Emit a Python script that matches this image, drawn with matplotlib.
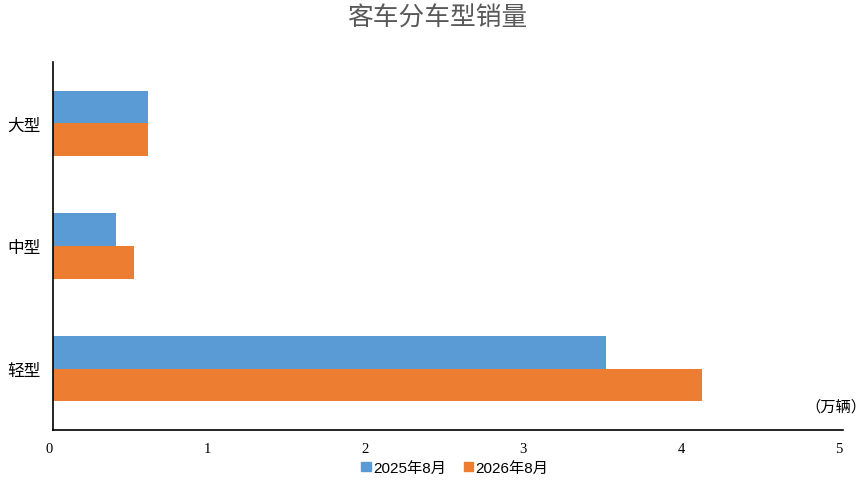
import numpy as np
import matplotlib
matplotlib.use("Agg")
import matplotlib.pyplot as plt
import matplotlib.transforms as mtransforms
from matplotlib.patches import Patch

plt.rcParams['font.family'] = ['Noto Sans CJK SC', 'DejaVu Sans']

# data (万辆)
categories = ['大型', '中型', '轻型']
sales_2025 = [0.60, 0.40, 3.50]
sales_2026 = [0.60, 0.51, 4.11]
series_names = ['2025年8月', '2026年8月']
xticks = [0, 1, 2, 3, 4, 5]

blue = '#5B9BD5'
orange = '#ED7D31'

W, H = 865, 481
fig = plt.figure(figsize=(W / 100, H / 100), dpi=100)
ax = fig.add_axes([53 / W, 1 - 431 / H, (843 - 53) / W, (431 - 63) / H])

y = np.arange(len(categories))
h = 0.265
ax.barh(y - h / 2, sales_2025, height=h, color=blue, label=series_names[0])
ax.barh(y + h / 2, sales_2026, height=h, color=orange, label=series_names[1])

ax.set_xlim(0, 5)
ax.set_ylim(2.5, -0.5)
ax.set_yticks(y)
ax.set_yticklabels(categories, fontsize=12)
ax.set_xticks(xticks)
ax.set_xticklabels([str(t) for t in xticks], fontsize=10.5, family='Liberation Serif')
ax.tick_params(axis='both', length=0)
ax.tick_params(axis='y', pad=9)
ax.tick_params(axis='x', pad=9)
# tick labels sit a few pixels left of the tick positions
shift = mtransforms.ScaledTranslation(-4 / 100, 0, fig.dpi_scale_trans)
for lab in ax.get_xticklabels():
    lab.set_transform(lab.get_transform() + shift)
for s in ['top', 'right']:
    ax.spines[s].set_visible(False)
for s in ['left', 'bottom']:
    ax.spines[s].set_color('black')
    ax.spines[s].set_linewidth(1.2)

fig.text(0.505, 1 - 19 / H, '客车分车型销量', ha='center', va='center',
         fontsize=18.5, color='#595959', fontweight='light')
fig.text(836 / W, 1 - 407 / H, '（万辆）', ha='center', va='center', fontsize=11)

handles = [Patch(color=blue), Patch(color=orange)]
fig.legend(handles, series_names, loc='center', bbox_to_anchor=(455 / W, 1 - 469 / H),
           ncol=2, frameon=False, handlelength=0.6, handleheight=0.6,
           handletextpad=0.15, columnspacing=1.2,
           prop={'family': ['Liberation Sans', 'Noto Sans CJK SC'], 'size': 11})

fig.savefig('out.png', dpi=100)
